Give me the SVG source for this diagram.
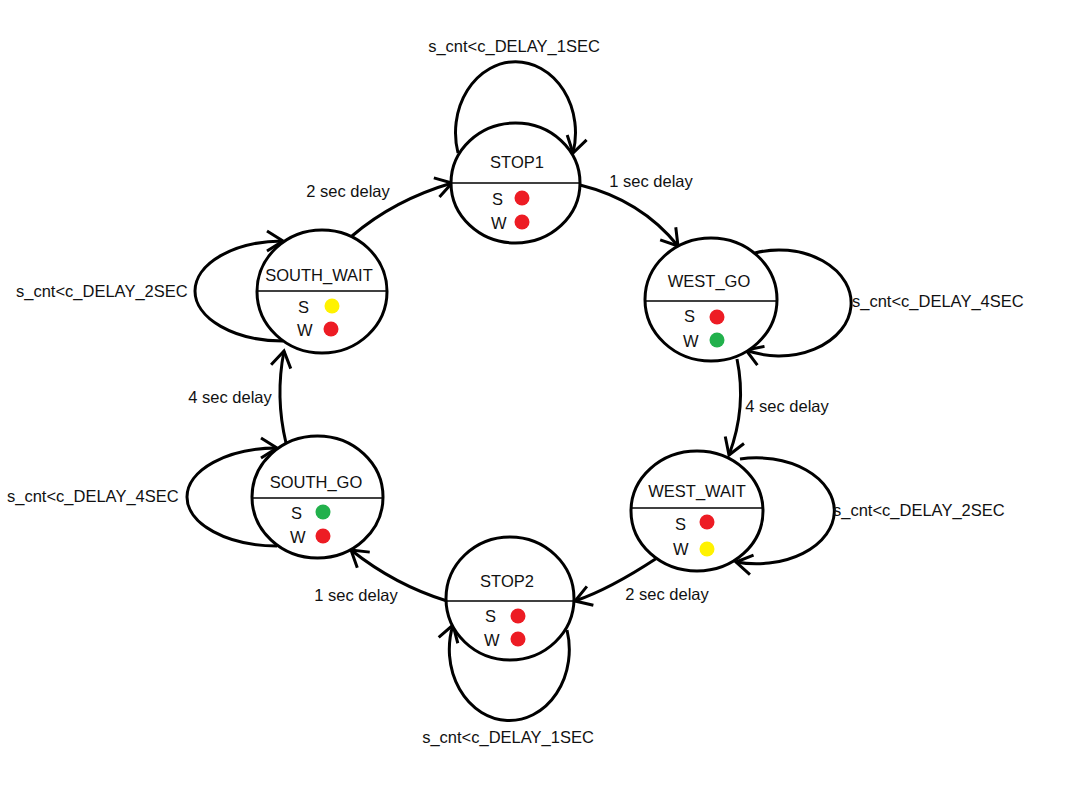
<svg xmlns="http://www.w3.org/2000/svg" width="1072" height="808" viewBox="0 0 1072 808">
<style>
.st{fill:#fff;stroke:#000;stroke-width:3}
.dv{stroke:#000;stroke-width:1.3}
text{font-family:"Liberation Sans",Arial,sans-serif;font-size:16.5px;fill:#111}
.c{text-anchor:middle}
.e{fill:none;stroke:#000;stroke-width:3}
.r{fill:#ED1C24}.y{fill:#FFF200}.g{fill:#22B14C}
</style>
<defs>
<marker id="ah" markerUnits="userSpaceOnUse" markerWidth="40" markerHeight="40" refX="0" refY="0" viewBox="-20 -20 40 40" orient="auto" overflow="visible">
<path d="M-16,-10 L0,0 L-16,10" fill="none" stroke="#000" stroke-width="3"/>
</marker>
</defs>
<rect width="1072" height="808" fill="#fff"/>
<g id="connectors">
<path class="e" marker-end="url(#ah)" d="M458,153 A60,71 0 1 1 573,153"/>
<path class="e" marker-end="url(#ah)" d="M755,253 A72,53 0 1 1 746,350"/>
<path class="e" marker-end="url(#ah)" d="M740,459 A78,53 0 1 1 736,562"/>
<path class="e" marker-end="url(#ah)" d="M567,630 A60,71 0 1 1 453,625"/>
<path class="e" marker-end="url(#ah)" d="M283,341 A88,50 0 1 1 283,241"/>
<path class="e" marker-end="url(#ah)" d="M277,546 A90,49 0 1 1 277,448"/>
<path class="e" marker-end="url(#ah)" d="M352,236 Q394,200 452,183"/>
<path class="e" marker-end="url(#ah)" d="M580,185 Q641,200 678,246"/>
<path class="e" marker-end="url(#ah)" d="M737,359 Q747,407 729,455"/>
<path class="e" marker-end="url(#ah)" d="M657,558 Q610,589 575,601"/>
<path class="e" marker-end="url(#ah)" d="M447,601 Q395,585 351,550"/>
<path class="e" marker-end="url(#ah)" d="M286,443 Q275,397 284,351"/>
<text class="c" x="514" y="52">s_cnt&lt;c_DELAY_1SEC</text>
<text class="c" x="651" y="187">1 sec delay</text>
<text class="c" x="348" y="197">2 sec delay</text>
<text x="852" y="307">s_cnt&lt;c_DELAY_4SEC</text>
<text class="c" x="787" y="412">4 sec delay</text>
<text x="833" y="516">s_cnt&lt;c_DELAY_2SEC</text>
<text class="c" x="667" y="600">2 sec delay</text>
<text class="c" x="356" y="601">1 sec delay</text>
<text class="c" x="508" y="743">s_cnt&lt;c_DELAY_1SEC</text>
<text class="c" x="230" y="403">4 sec delay</text>
<text x="16" y="297">s_cnt&lt;c_DELAY_2SEC</text>
<text x="7" y="502">s_cnt&lt;c_DELAY_4SEC</text>
</g>
<g id="STOP1">
<ellipse class="st" cx="515.5" cy="183" rx="64.5" ry="60"/>
<line class="dv" x1="451" y1="183" x2="580" y2="183"/>
<text class="c" x="517" y="168">STOP1</text>
<text x="492" y="205">S</text><circle class="r" cx="522" cy="198" r="7.5"/>
<text x="491" y="229">W</text><circle class="r" cx="522" cy="222" r="7.5"/>
</g>
<g id="WEST_GO">
<ellipse class="st" cx="711" cy="299.5" rx="66" ry="61.5"/>
<line class="dv" x1="645" y1="301" x2="777" y2="301"/>
<text class="c" x="709" y="287">WEST_GO</text>
<text x="684" y="322">S</text><circle class="r" cx="717" cy="317" r="7.5"/>
<text x="683" y="347">W</text><circle class="g" cx="717" cy="340" r="7.5"/>
</g>
<g id="WEST_WAIT">
<ellipse class="st" cx="697" cy="511" rx="66" ry="60"/>
<line class="dv" x1="631" y1="508" x2="763" y2="508"/>
<text class="c" x="697" y="497">WEST_WAIT</text>
<text x="675" y="530">S</text><circle class="r" cx="707" cy="522" r="7.5"/>
<text x="673" y="555">W</text><circle class="y" cx="707" cy="549" r="7.5"/>
</g>
<g id="STOP2">
<ellipse class="st" cx="510" cy="598.5" rx="64" ry="61.5"/>
<line class="dv" x1="446" y1="601" x2="574" y2="601"/>
<text class="c" x="507" y="587">STOP2</text>
<text x="485" y="622">S</text><circle class="r" cx="518" cy="616" r="7.5"/>
<text x="484" y="646">W</text><circle class="r" cx="518" cy="639" r="7.5"/>
</g>
<g id="SOUTH_WAIT">
<ellipse class="st" cx="322" cy="291.5" rx="65" ry="61.5"/>
<line class="dv" x1="257" y1="291" x2="387" y2="291"/>
<text class="c" x="319" y="281">SOUTH_WAIT</text>
<text x="298" y="313">S</text><circle class="y" cx="332" cy="306" r="7.5"/>
<text x="297" y="336">W</text><circle class="r" cx="331" cy="329" r="7.5"/>
</g>
<g id="SOUTH_GO">
<ellipse class="st" cx="317.5" cy="497" rx="65.5" ry="61"/>
<line class="dv" x1="252" y1="498" x2="383" y2="498"/>
<text class="c" x="316" y="488">SOUTH_GO</text>
<text x="291" y="519">S</text><circle class="g" cx="323" cy="512" r="7.5"/>
<text x="290" y="543">W</text><circle class="r" cx="323" cy="536" r="7.5"/>
</g>
</svg>
